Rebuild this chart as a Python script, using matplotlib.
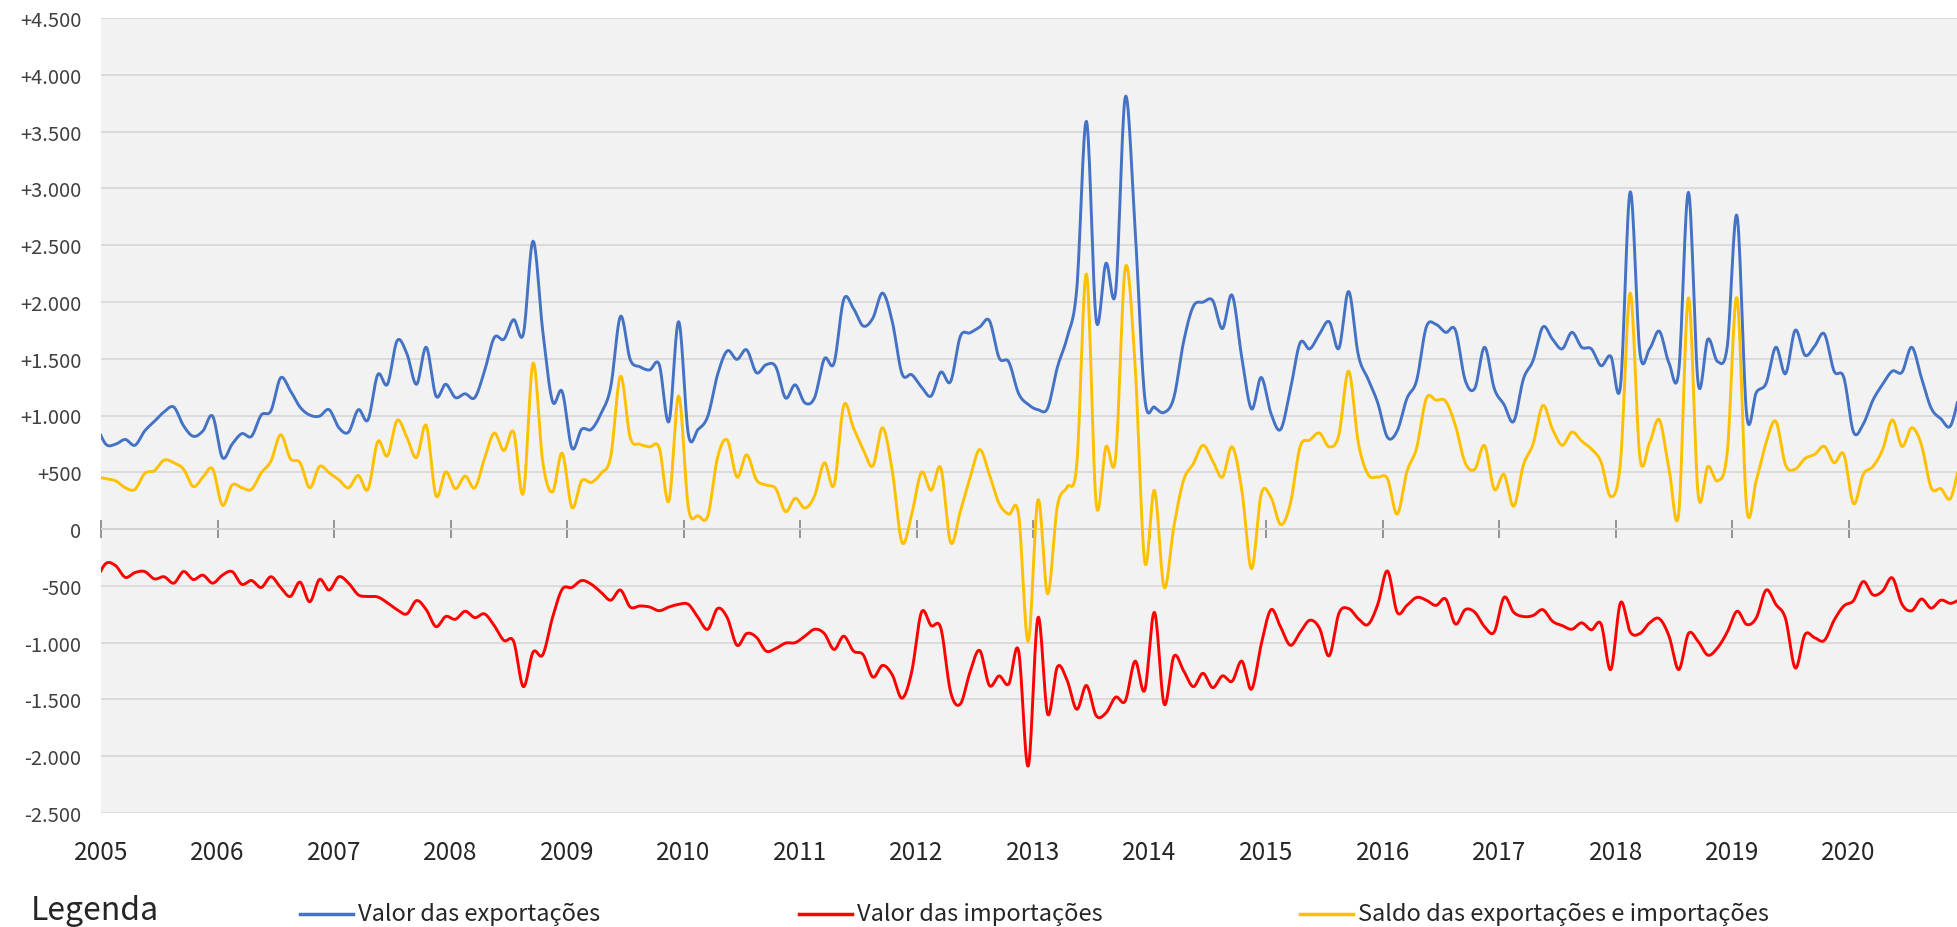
import numpy as np
import pandas as pd
import matplotlib
matplotlib.use("Agg")
import matplotlib.pyplot as plt
from matplotlib.lines import Line2D
from matplotlib.ticker import FuncFormatter, FixedLocator

plt.rcParams["font.family"] = ["Noto Sans CJK JP", "DejaVu Sans"]

# ---------------- data (monthly, Dec 2004 .. Dec 2020) ----------------
meses = pd.date_range("2004-12-01", periods=193, freq="MS")

exportacoes = [
    920,
    747, 747, 789, 738, 864, 948, 1032, 1074, 910, 817, 864, 994,
    630, 747, 840, 817, 1004, 1041, 1331, 1219, 1074, 1004, 994, 1051,
    892, 854, 1051, 962, 1359, 1275, 1658, 1545, 1275, 1601, 1172, 1275,
    1158, 1191, 1158, 1391, 1686, 1672, 1844, 1718, 2535, 1742, 1125, 1210,
    714, 878, 878, 1018, 1251, 1872, 1494, 1429, 1401, 1447, 948, 1826,
    831, 878, 994, 1359, 1569, 1494, 1578, 1377, 1447, 1429, 1155, 1270,
    1111, 1158, 1499, 1461, 2022, 1942, 1788, 1858, 2078, 1826, 1368, 1359,
    1251, 1172, 1382, 1298, 1695, 1728, 1779, 1835, 1508, 1471, 1195, 1097,
    1051, 1065, 1424, 1686, 2115, 3590, 1840, 2340, 2090, 3805, 2650, 1158,
    1074, 1027, 1158, 1648, 1961, 1998, 2012, 1765, 2059, 1508, 1058, 1335,
    1018, 878, 1228, 1639, 1587, 1718, 1826, 1592, 2092, 1531, 1321, 1111,
    808, 864, 1149, 1307, 1779, 1802, 1732, 1751, 1312, 1240, 1601, 1237,
    1097, 948, 1321, 1485, 1779, 1672, 1587, 1732, 1601, 1587, 1438, 1522,
    1261, 2969, 1555, 1587, 1742, 1461, 1391, 2965, 1284, 1672, 1475, 1611,
    2759, 1004, 1205, 1284, 1601, 1368, 1751, 1531, 1611, 1718, 1391, 1335,
    854, 924, 1135, 1275, 1391, 1382, 1601, 1331, 1065, 971, 910, 1230,
]

importacoes = [
    -450,
    -303, -322, -425, -383, -374, -439, -420, -476, -374, -444, -406, -476,
    -406, -374, -486, -453, -514, -420, -514, -593, -467, -640, -444, -537,
    -420, -476, -579, -593, -598, -649, -710, -747, -630, -710, -859, -770,
    -794, -724, -780, -747, -850, -981, -990, -1387, -1083, -1107, -780, -530,
    -514, -453, -486, -556, -626, -537, -686, -677, -686, -719, -686, -663,
    -663, -780, -882, -700, -780, -1023, -920, -952, -1074, -1051, -1004, -1000,
    -943, -882, -920, -1060, -943, -1074, -1107, -1303, -1200, -1284, -1489, -1256,
    -733, -850, -873, -1433, -1541, -1261, -1069, -1377, -1293, -1363, -1069, -2087,
    -780, -1629, -1214, -1331, -1587, -1377, -1643, -1620, -1480, -1513, -1163, -1419,
    -733, -1541, -1121, -1247, -1387, -1270, -1396, -1293, -1340, -1163, -1410, -1013,
    -710, -864, -1023, -910, -803, -873, -1116, -742, -700, -789, -840, -663,
    -369, -733, -672, -602, -626, -672, -616, -836, -710, -733, -860, -906,
    -602, -733, -770, -761, -710, -812, -850, -882, -826, -887, -836, -1237,
    -649, -906, -920, -826, -789, -943, -1237, -920, -990, -1110, -1045, -906,
    -724, -840, -780, -537, -663, -789, -1223, -929, -957, -980, -803, -677,
    -630, -462, -579, -546, -430, -663, -719, -616, -696, -626, -654, -616,
]

saldo = [
    460,
    444, 425, 364, 350, 490, 514, 607, 584, 528, 374, 458, 528,
    210, 388, 364, 350, 495, 598, 831, 621, 584, 364, 551, 495,
    434, 364, 472, 350, 770, 644, 957, 808, 630, 910, 294, 504,
    355, 467, 364, 621, 845, 691, 854, 317, 1461, 590, 327, 668,
    191, 425, 411, 490, 640, 1345, 808, 747, 724, 714, 247, 1172,
    187, 117, 117, 630, 784, 458, 654, 434, 388, 355, 154, 271,
    185, 294, 584, 388, 1088, 890, 700, 556, 892, 510, -117, 131,
    500, 341, 537, -117, 154, 450, 700, 480, 224, 131, 131, -990,
    257, -570, 201, 370, 570, 2246, 220, 724, 630, 2302, 1450, -289,
    341, -514, 23, 430, 574, 738, 600, 458, 724, 341, -350, 310,
    280, 40, 225, 724, 784, 845, 724, 831, 1391, 760, 481, 458,
    444, 131, 505, 714, 1149, 1135, 1125, 910, 584, 528, 735, 350,
    481, 201, 565, 750, 1088, 878, 738, 854, 775, 705, 590, 285,
    590, 2078, 630, 761, 962, 528, 140, 2036, 305, 551, 425, 680,
    2036, 187, 434, 761, 948, 565, 528, 621, 658, 728, 584, 658,
    224, 481, 551, 700, 962, 728, 892, 740, 364, 355, 271, 620,
]

anos = list(range(2005, 2021))
nomes = ["Valor das exportações", "Valor das importações",
         "Saldo das exportações e importações"]
cores = ["#4472C4", "#FF0000", "#FFC000"]


def suavizar(x, y, n=16):
    """Catmull-Rom smoothing (Excel-like smoothed line) through the data points."""
    x = np.asarray(x, float)
    y = np.asarray(y, float)

    def cr(v):
        vp = np.concatenate([[v[0]], v, [v[-1]]])
        N = len(v)
        p0, p1, p2, p3 = vp[0:N - 1], vp[1:N], vp[2:N + 1], vp[3:N + 2]
        t = np.linspace(0, 1, n, endpoint=False)[:, None]
        r = 0.5 * (2 * p1 + (-p0 + p2) * t + (2 * p0 - 5 * p1 + 4 * p2 - p3) * t ** 2
                   + (-p0 + 3 * p1 - 3 * p2 + p3) * t ** 3)
        return np.concatenate([r.T.ravel(), [v[-1]]])

    return cr(x), cr(y)


x = meses.year + (meses.month - 0.5) / 12.0

W, H = 1957, 928
fig = plt.figure(figsize=(W / 100, H / 100), dpi=100)
ax = fig.add_axes([101 / W, 1 - 814 / H, (W - 101) / W, (814 - 19) / H])
ax.set_facecolor("#F2F2F2")

for serie, cor in zip([exportacoes, importacoes, saldo], cores):
    xs, ys = suavizar(x, serie)
    ax.plot(xs, ys, color=cor, lw=2.1, solid_capstyle="round", zorder=3)

ax.set_xlim(2005, 2005 + (W - 101) / 116.51)
ax.set_ylim(-2500, 4500)

# y axis
ax.yaxis.set_major_locator(FixedLocator(np.arange(-2500, 4501, 500)))


def fmt(v, pos):
    if abs(v) < 1e-9:
        return "0"
    s = f"{abs(v):,.0f}".replace(",", ".")
    return ("+" if v > 0 else "-") + s


ax.yaxis.set_major_formatter(FuncFormatter(fmt))
ax.tick_params(axis="y", length=0, pad=14, labelsize=14.5, labelcolor="#404040")
ax.yaxis.grid(True, color="#D9D9D9", lw=1.3)
ax.set_axisbelow(True)
for s in ax.spines.values():
    s.set_visible(False)

# x labels at the bottom
ax.set_xticks(anos)
ax.set_xticklabels([str(a) for a in anos])
ax.tick_params(axis="x", length=0, pad=19, labelsize=17.5, labelcolor="#262626")

# horizontal axis line at zero with cross tick marks
sec = ax.secondary_xaxis(2500 / 7000)
sec.set_xticks(anos)
sec.tick_params(axis="x", direction="inout", length=13, width=1.3, color="#8C8C8C",
                labelbottom=False, labeltop=False)
for k, s in sec.spines.items():
    s.set_visible(k == "bottom")
sec.spines["bottom"].set_color("#8C8C8C")
sec.spines["bottom"].set_linewidth(1.3)

# legend
fig.text(31 / W, 1 - 911 / H, "Legenda", fontsize=23, va="center", ha="left",
         color="#262626")
for (x0, nome, cor) in zip([300, 799, 1300], nomes, cores):
    fig.add_artist(Line2D([x0 / W, (x0 + 53) / W], [1 - 915 / H] * 2,
                          color=cor, lw=2.5, transform=fig.transFigure))
    fig.text((x0 + 58) / W, 1 - 915 / H, nome, fontsize=17, va="center",
             ha="left", color="#262626")

fig.savefig("out.png", dpi=100, facecolor="white")
